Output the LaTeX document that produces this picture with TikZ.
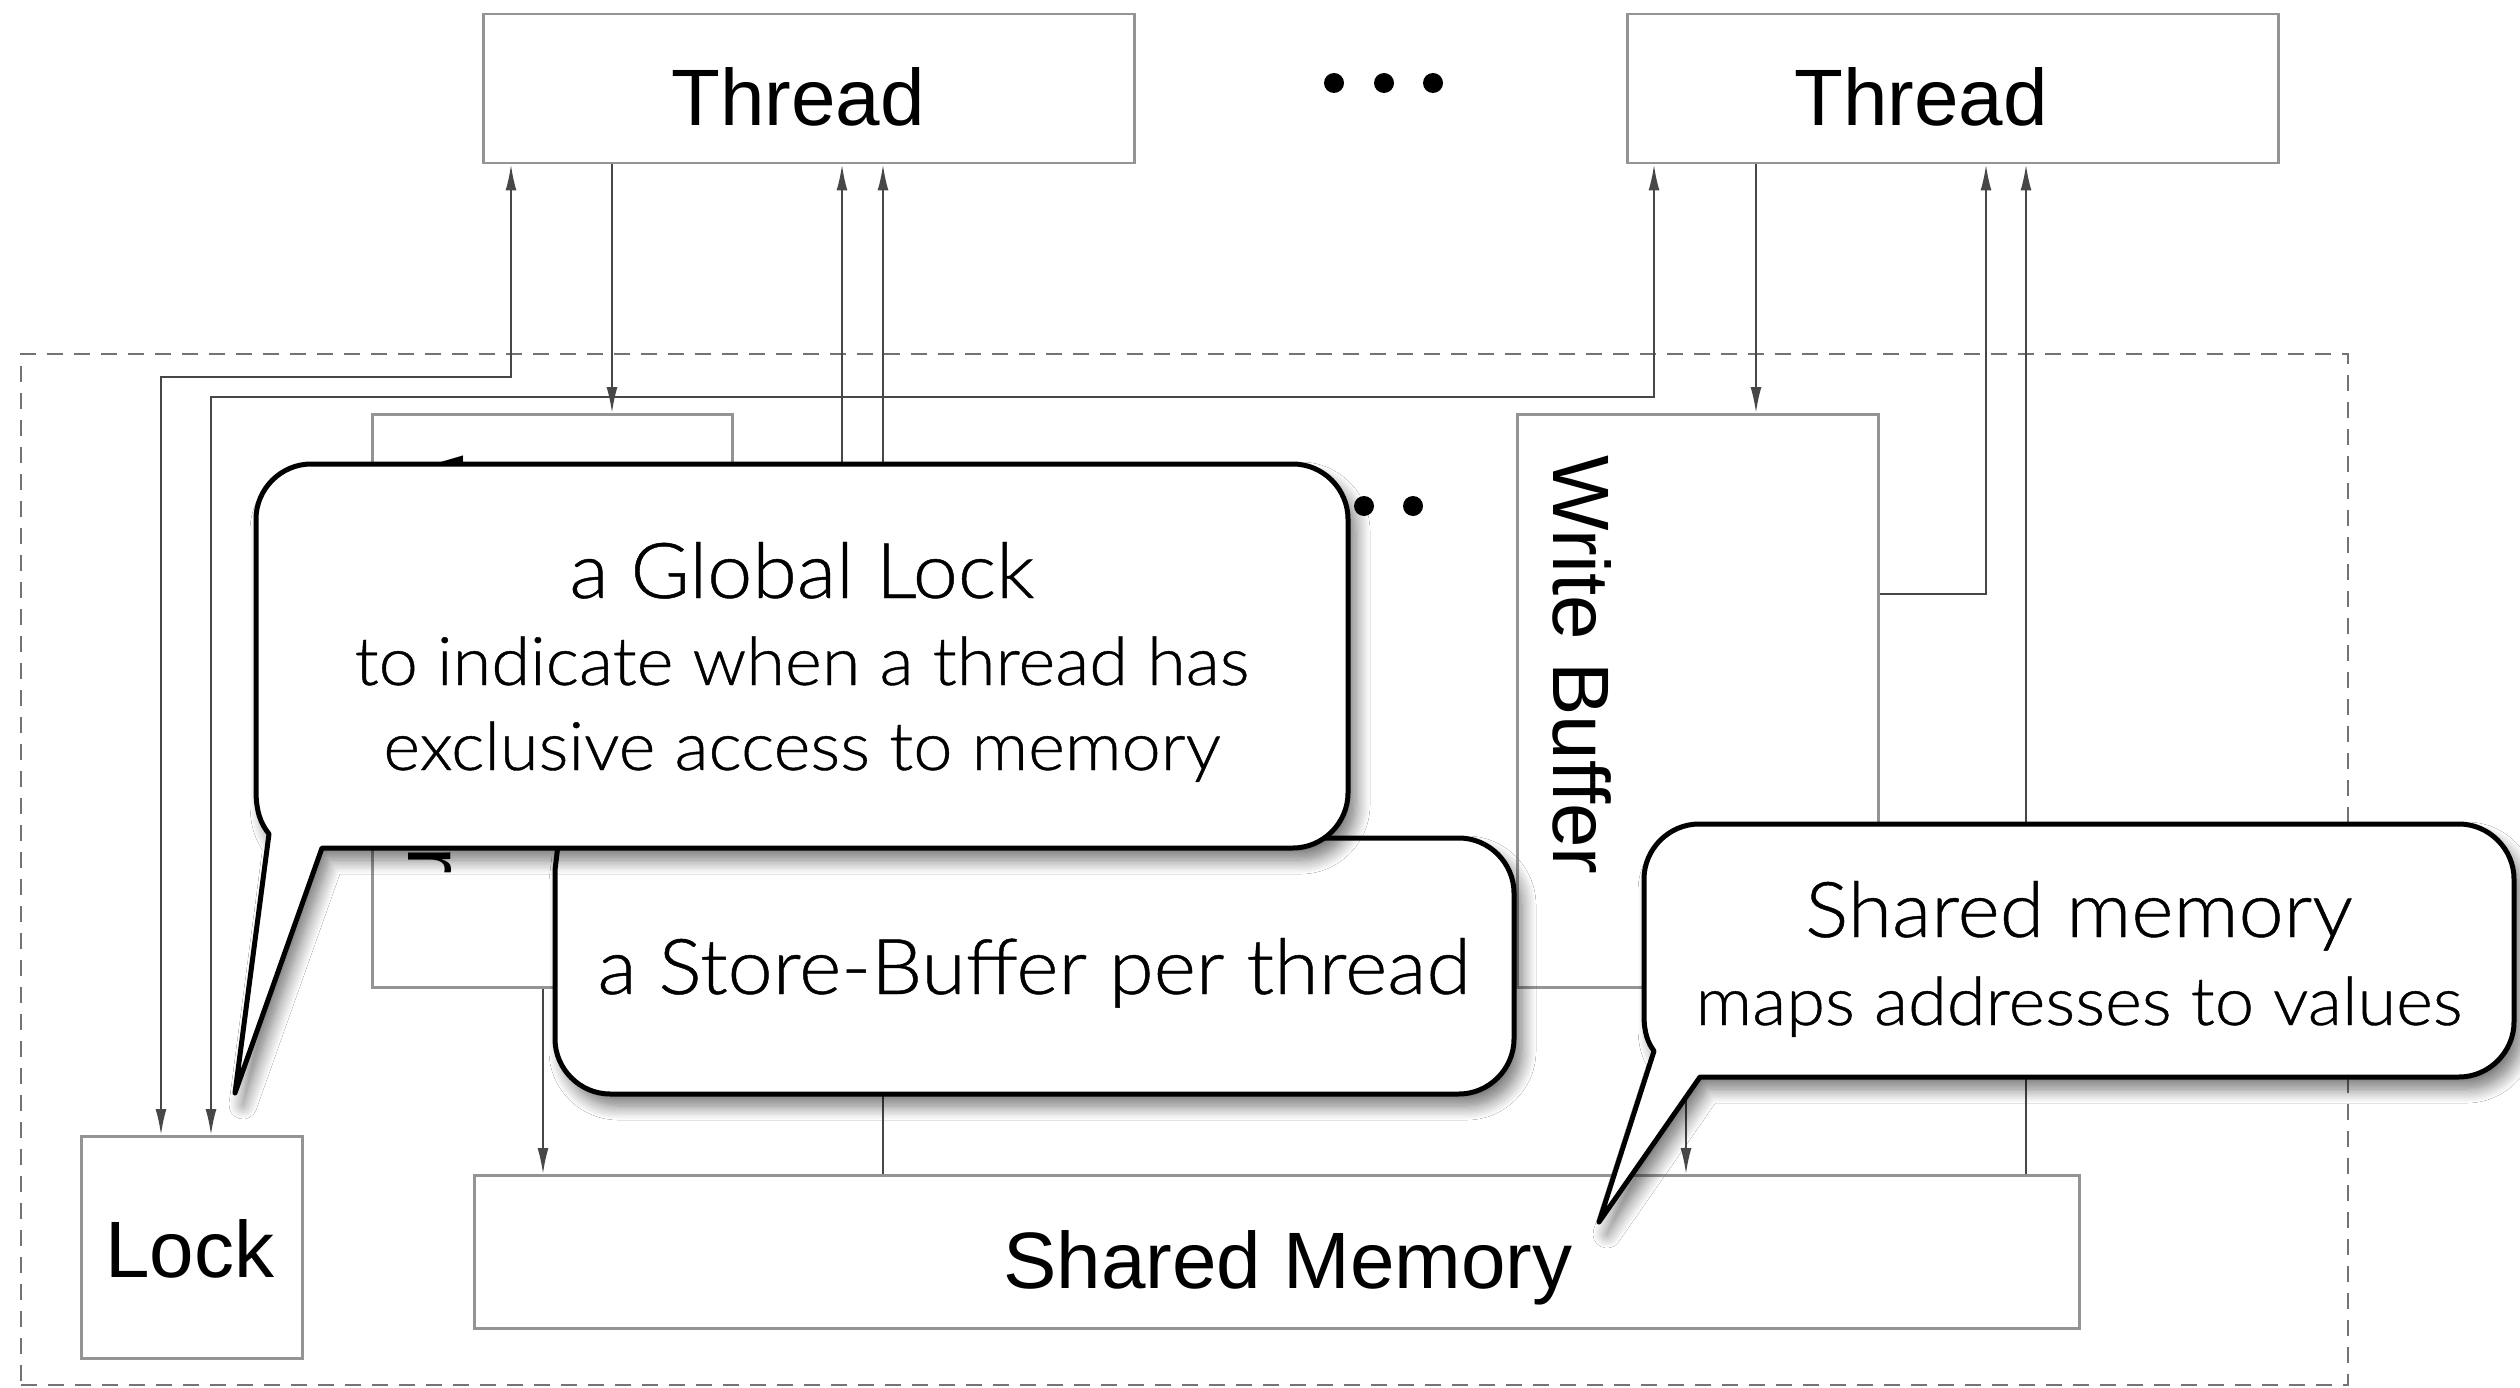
\documentclass[tikz,border=0pt]{standalone}
\usepackage{fontspec}
\setmainfont{Liberation Sans}
\newfontfamily\callfont{Lato Light}[FakeStretch=1.05, FakeBold=0.6]
\usetikzlibrary{arrows.meta,calc,shadows.blur}
\begin{document}
\begin{tikzpicture}[x=1pt,y=-1pt,
  box/.style={draw=black!42, line width=2.5pt, inner sep=0pt, anchor=north west},
  conn/.style={draw=black!72, line width=2pt},
  >={Latex[length=26pt,width=11pt]},
  lbl/.style={font=\fontsize{80}{96}\selectfont, inner sep=0pt, anchor=base},
  callout/.style={draw=black, fill=white, line width=5pt, line join=round,
    blur shadow={shadow xshift=8pt, shadow yshift=-12pt, shadow blur radius=14pt, shadow blur steps=12, shadow opacity=55}},
  cbig/.style={font=\callfont\fontsize{77}{90}\selectfont, inner sep=0pt, anchor=base},
  csmall/.style={font=\callfont\fontsize{67}{80}\selectfont, inner sep=0pt, anchor=base},
  dot/.style={fill=black}]
\useasboundingbox (0,0) rectangle (2520,1388);
\fill[white] (0,0) rectangle (2520,1388);

% system boundary
\node[draw=black!55, line width=2pt, dash pattern=on 16pt off 11pt, inner sep=0pt, anchor=north west,
  minimum width=2327pt, minimum height=1031pt] (sys) at (20,353) {};

% boxes
\node[box, minimum width=651pt, minimum height=149pt] (T1) at (482,13) {};
\node[box, minimum width=651pt, minimum height=149pt] (T2) at (1626,13) {};
\node[box, minimum width=360pt, minimum height=573pt] (WB1) at (371,413) {};
\node[box, minimum width=361pt, minimum height=573pt] (WB2) at (1516,413) {};
\node[box, minimum width=221pt, minimum height=222pt] (L) at (80,1135) {};
\node[box, minimum width=1605pt, minimum height=153pt] (SM) at (473,1174) {};

% labels
\node[lbl] (T1t) at (798,126) {Thread};
\node[lbl] (T2t) at (1921,126) {Thread};
\node[lbl] (Lt) at (190,1277) {Lock};
\node[lbl] (SMt) at (1288,1288) {Shared Memory};
\node[font=\fontsize{80}{96}\selectfont, inner sep=0pt, rotate=-90, anchor=base west] (WB1t) at (408,455) {Write Buffer};
\node[font=\fontsize{80}{96}\selectfont, inner sep=0pt, rotate=-90, anchor=base west] (WB2t) at (1553,455) {Write Buffer};

% dots
\fill[dot] (1334,83) circle[radius=10pt] (1384,83) circle[radius=10pt] (1433,83) circle[radius=10pt];
\fill[dot] (1315,506) circle[radius=10pt] (1364,506) circle[radius=10pt] (1413,506) circle[radius=10pt];

% ports
\coordinate (a1) at ($(T1.south west)+(29,0)$);
\coordinate (a2) at ($(T1.south west)+(130,0)$);
\coordinate (a3) at ($(T1.south west)+(360,0)$);
\coordinate (a4) at ($(T1.south west)+(401,0)$);
\coordinate (b1) at ($(T2.south west)+(28,0)$);
\coordinate (b2) at ($(T2.south west)+(130,0)$);
\coordinate (b3) at ($(T2.south west)+(360,0)$);
\coordinate (b4) at ($(T2.south west)+(400,0)$);
\coordinate (l1) at ($(L.north west)+(81,0)$);
\coordinate (l2) at ($(L.north west)+(131,0)$);
\coordinate (w1) at ($(WB1.south west)+(172,0)$);
\coordinate (w2) at ($(WB2.south west)+(170,0)$);
\coordinate (r1) at ($(WB1.north east)+(0,181)$);
\coordinate (r2) at ($(WB2.north east)+(0,181)$);

% connectors
\draw[conn,<->] (l1) |- ($(a1)+(0,212)$) -- (a1);
\draw[conn,<->] (l2) |- ($(b1)+(0,232)$) -- (b1);
\draw[conn,->] (a2) -- (a2 |- WB1.north);
\draw[conn,->] (b2) -- (b2 |- WB2.north);
\draw[conn,->] (r1) -| (a3);
\draw[conn,->] (r2) -| (b3);
\draw[conn,->] (a4 |- SM.north) -- (a4);
\draw[conn,->] (b4 |- SM.north) -- (b4);
\draw[conn,->] (w1) -- (w1 |- SM.north);
\draw[conn,->] (w2) -- (w2 |- SM.north);

% callout: store buffer
\path[callout] (560,700) -- (625,838) -- (1459,838) .. controls (1489,838) and (1514,863) .. (1514,893)
  -- (1514,1039) .. controls (1514,1069) and (1489,1094) .. (1459,1094)
  -- (610,1094) .. controls (580,1094) and (555,1069) .. (555,1039) -- (555,870) -- (558,845) -- cycle;
\node[cbig] (c2a) at (1034,994) {a Store-Buffer per thread};

% callout: global lock
\path[callout] (235,1093) -- (322,848) -- (1293,848) .. controls (1323,848) and (1348,823) .. (1348,793)
  -- (1348,519) .. controls (1348,489) and (1323,464) .. (1293,464)
  -- (311,464) .. controls (281,464) and (256,489) .. (256,519)
  -- (256,790) .. controls (256,812) and (261,824) .. (269,834) -- cycle;
\node[cbig] (c1a) at (802,598) {a Global Lock};
\node[csmall] (c1b) at (802,685) {to indicate when a thread has};
\node[csmall] (c1c) at (802,770) {exclusive access to memory};

% callout: shared memory
\path[callout] (1599,1222) -- (1700,1077) -- (2459,1077) .. controls (2489,1077) and (2514,1052) .. (2514,1022)
  -- (2514,879) .. controls (2514,849) and (2489,824) .. (2459,824)
  -- (1699,824) .. controls (1669,824) and (1644,849) .. (1644,879)
  -- (1644,1015) .. controls (1644,1033) and (1648,1043) .. (1654,1051) -- cycle;
\node[cbig] (c3a) at (2079,937) {Shared memory};
\node[csmall] (c3b) at (2079,1025) {maps addresses to values};
\end{tikzpicture}
\end{document}
